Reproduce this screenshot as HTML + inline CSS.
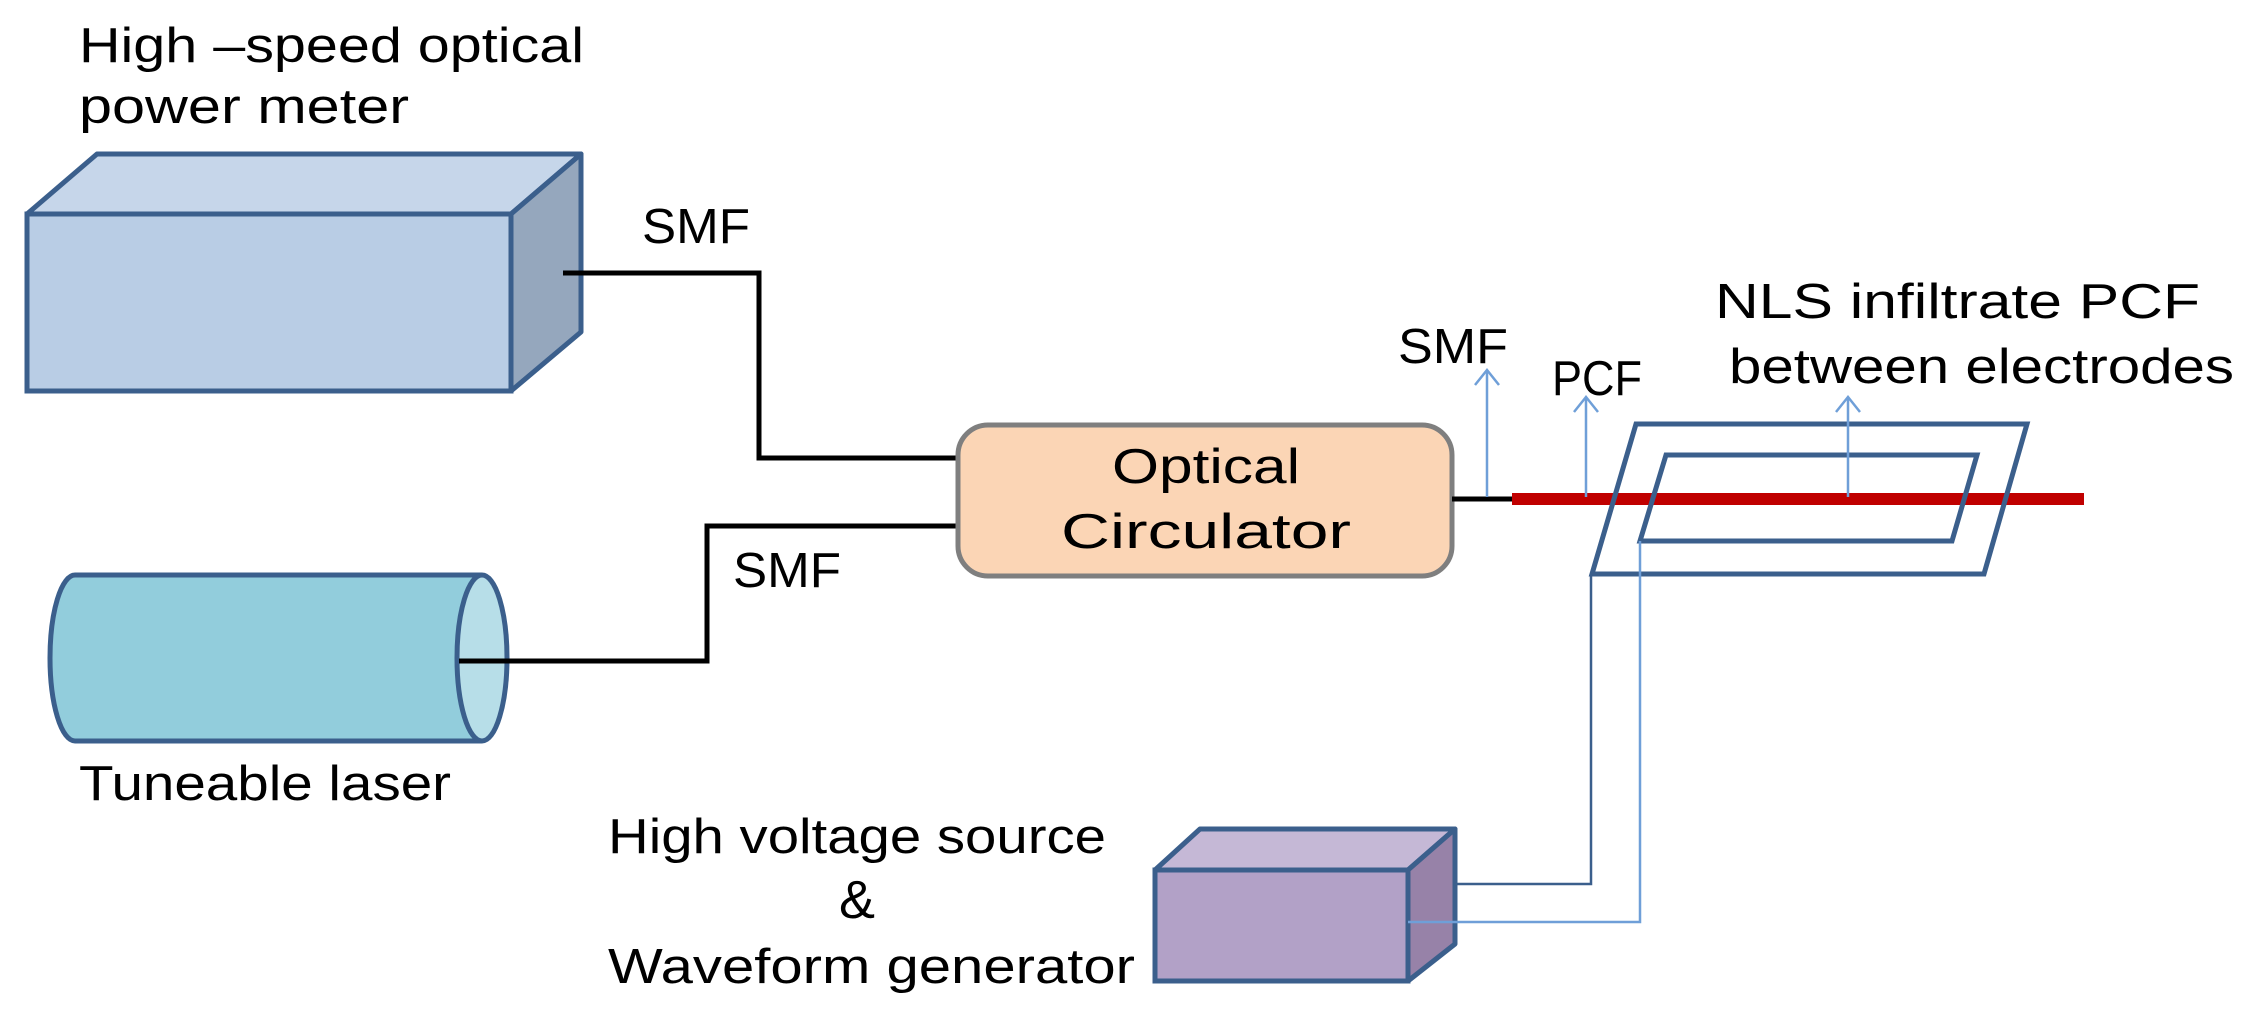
<!DOCTYPE html>
<html><head><meta charset="utf-8"><style>html,body{margin:0;padding:0;background:#fff}svg{display:block}</style></head>
<body>
<svg width="2251" height="1018" viewBox="0 0 2251 1018" xmlns="http://www.w3.org/2000/svg" font-family="Liberation Sans, sans-serif" font-size="49" fill="#000">
<!-- power meter -->
<polygon points="27,214 97,154 581,154 511,214" fill="#c6d6ea" stroke="#3b5f8c" stroke-width="5" stroke-linejoin="round"/>
<polygon points="511,214 581,154 581,332 511,391" fill="#95a7bd" stroke="#3b5f8c" stroke-width="5" stroke-linejoin="round"/>
<rect x="27" y="214" width="484" height="177" fill="#b9cde5" stroke="#3b5f8c" stroke-width="5"/>
<text x="79" y="62" textLength="505" lengthAdjust="spacingAndGlyphs">High –speed optical</text>
<text x="79" y="123" textLength="330" lengthAdjust="spacingAndGlyphs">power meter</text>
<!-- wire 1 -->
<polyline points="563,273 759,273 759,458 958,458" fill="none" stroke="#000" stroke-width="5"/>
<text x="642" y="243" textLength="108" lengthAdjust="spacingAndGlyphs">SMF</text>
<!-- laser -->
<path d="M482,575 L75,575 A25,83 0 0 0 75,741 L482,741" fill="#92cddc" stroke="#3b5f8c" stroke-width="5"/>
<ellipse cx="482" cy="658" rx="25" ry="83" fill="#b7dee8" stroke="#3b5f8c" stroke-width="5"/>
<text x="79" y="800" textLength="372" lengthAdjust="spacingAndGlyphs">Tuneable laser</text>
<!-- wire 2 -->
<polyline points="459,661 707,661 707,526 958,526" fill="none" stroke="#000" stroke-width="5"/>
<text x="733" y="587" textLength="108" lengthAdjust="spacingAndGlyphs">SMF</text>
<!-- circulator -->
<rect x="958" y="425" width="494" height="151" rx="30" fill="#fbd5b5" stroke="#7f7f7f" stroke-width="5"/>
<text x="1112" y="483" textLength="188" lengthAdjust="spacingAndGlyphs">Optical</text>
<text x="1061" y="548" textLength="290" lengthAdjust="spacingAndGlyphs">Circulator</text>
<!-- fibers -->
<line x1="1452" y1="499" x2="1514" y2="499" stroke="#000" stroke-width="5"/>
<line x1="1512" y1="499" x2="2084" y2="499" stroke="#c00000" stroke-width="12"/>
<!-- electrodes -->
<polygon points="1636,424 2027,424 1984,574 1592,574" fill="none" stroke="#3b5f8c" stroke-width="5"/>
<polygon points="1666,455 1977,455 1952,541 1640,541" fill="none" stroke="#3b5f8c" stroke-width="5"/>
<!-- arrows -->
<g stroke="#6f9fd8" stroke-width="2.5" fill="none">
<line x1="1487" y1="497" x2="1487" y2="370"/><polyline points="1475,385 1487,370 1499,385"/>
<line x1="1586" y1="497" x2="1586" y2="397"/><polyline points="1574,412 1586,397 1598,412"/>
<line x1="1848" y1="497" x2="1848" y2="397"/><polyline points="1836,412 1848,397 1860,412"/>
</g>
<text x="1398" y="363" textLength="110" lengthAdjust="spacingAndGlyphs">SMF</text>
<text x="1552" y="395" textLength="90" lengthAdjust="spacingAndGlyphs">PCF</text>
<text x="1715" y="318" textLength="485" lengthAdjust="spacingAndGlyphs">NLS infiltrate PCF</text>
<text x="1729" y="383" textLength="505" lengthAdjust="spacingAndGlyphs">between electrodes</text>
<!-- HV box -->
<polygon points="1155,870 1200,829 1455,829 1408,870" fill="#c5b8d6" stroke="#3b5f8c" stroke-width="5" stroke-linejoin="round"/>
<polygon points="1408,870 1455,829 1455,944 1408,981" fill="#9782a8" stroke="#3b5f8c" stroke-width="5" stroke-linejoin="round"/>
<rect x="1155" y="870" width="253" height="111" fill="#b2a1c7" stroke="#3b5f8c" stroke-width="5"/>
<polyline points="1455,884 1591,884 1591,574" fill="none" stroke="#3b5f8c" stroke-width="2.5"/>
<polyline points="1408,922 1640,922 1640,541" fill="none" stroke="#6f9fd8" stroke-width="2.5"/>
<text x="608" y="853" textLength="498" lengthAdjust="spacingAndGlyphs">High voltage source</text>
<text x="857" y="918" text-anchor="middle" font-size="54">&amp;</text>
<text x="608" y="983" textLength="527" lengthAdjust="spacingAndGlyphs">Waveform generator</text>
</svg>
</body></html>
